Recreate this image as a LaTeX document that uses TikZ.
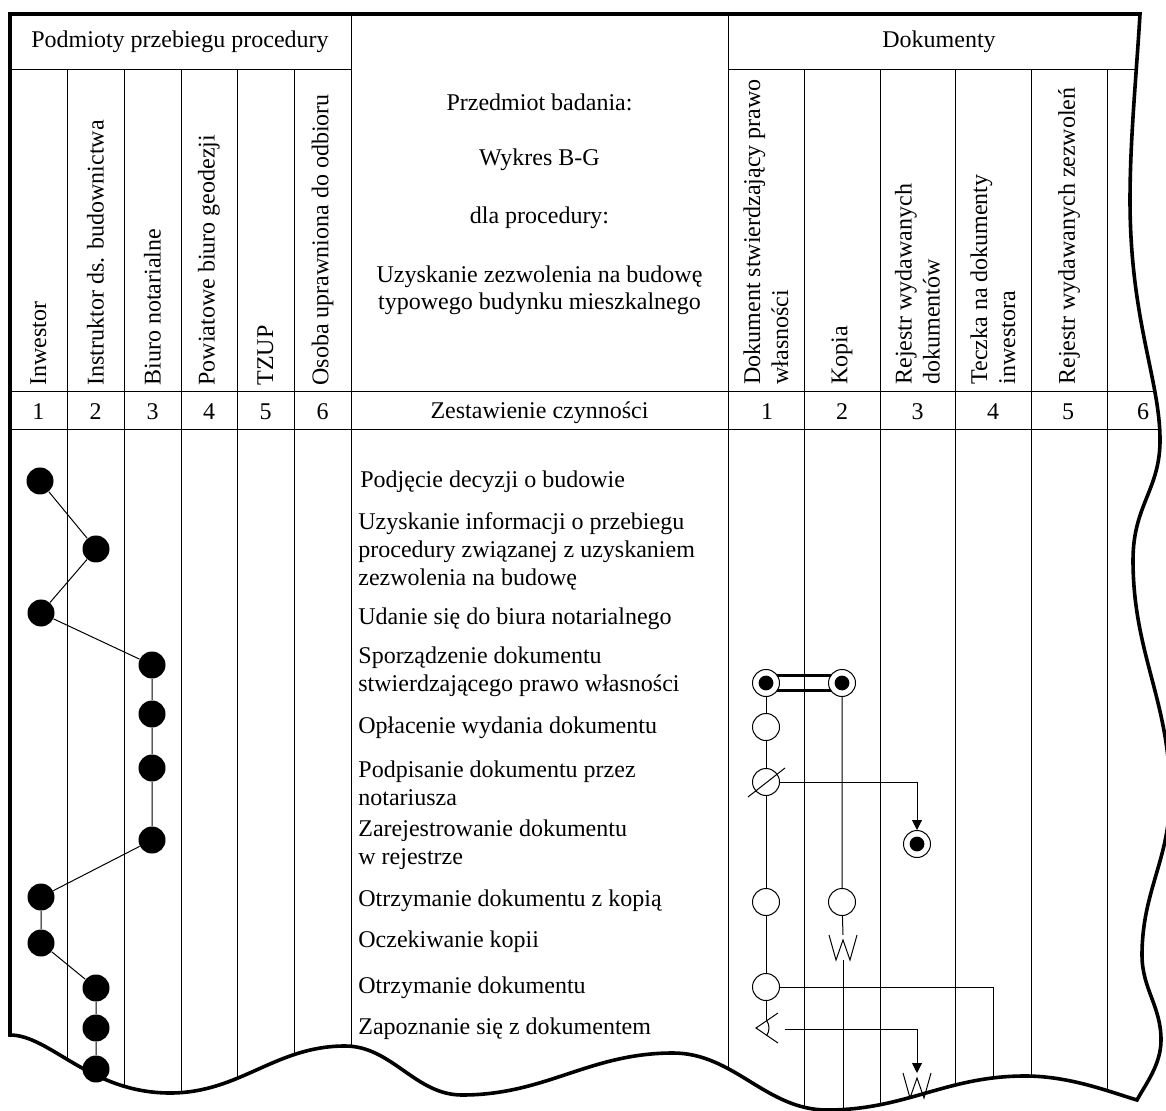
\documentclass[tikz,border=0pt]{standalone}
\usepackage{fontspec}
\setmainfont{Liberation Serif}
\usetikzlibrary{arrows.meta,calc,backgrounds}
\begin{document}
\begin{tikzpicture}[x=0.5pt,y=-0.5pt,
  font=\fontsize{12pt}{14pt}\selectfont,
  gridline/.style={line width=0.5pt},
  frame/.style={line width=1.8pt, line join=miter},
  act/.style={circle, fill=black, minimum size=13.5pt, inner sep=0pt},
  doc/.style={circle, draw, fill=white, line width=0.5pt, minimum size=13.5pt, inner sep=0pt},
  docfull/.style={doc, path picture={\fill[black] (path picture bounding box.center) circle (3.7pt);}},
  vlabel/.style={rotate=90, anchor=west, align=left, inner sep=0pt},
  txt/.style={inner sep=0pt, align=left, anchor=west},
  ctxt/.style={inner sep=0pt, align=center},
  flow/.style={line width=0.5pt},
  tip/.style={-{Triangle[length=5pt,width=5pt]}}
]
\useasboundingbox (0,0) rectangle (1166,1111);

% outline of the torn sheet: straight top and left edges, wavy right and bottom edges
\def\borderpath{(10,1035) -- (10,14) -- (1140,14)
  .. controls (1136,80) and (1130,140) .. (1130,200)
  .. controls (1130,320) and (1160,380) .. (1160,440)
  .. controls (1160,490) and (1133,505) .. (1133,560)
  .. controls (1133,654) and (1170,701) .. (1170,795)
  .. controls (1170,859) and (1142,891) .. (1142,955)
  .. controls (1142,989) and (1161,1006) .. (1161,1040)
  .. controls (1161,1065) and (1145,1085) .. (1137,1100)
  .. controls (1110,1092) and (1070,1076) .. (1025,1076)
  .. controls (946,1076) and (906,1110) .. (827,1110)
  .. controls (766,1110) and (734,1053) .. (673,1053)
  .. controls (589,1053) and (546,1095) .. (462,1095)
  .. controls (415,1095) and (392,1046) .. (345,1046)
  .. controls (275,1046) and (240,1093) .. (170,1093)
  .. controls (90,1093) and (50,1035) .. (10,1035) -- cycle}

% ---------------- headers ----------------
\node[ctxt] (hsub) at (180,42) {Podmioty przebiegu procedury};
\node[ctxt] (hdoc) at (939,42) {Dokumenty};

\node[vlabel] (s1) at (38.5,386) {Inwestor};
\node[vlabel] (s2) at (95.5,386) {Instruktor ds. budownictwa};
\node[vlabel] (s3) at (152.5,386) {Biuro notarialne};
\node[vlabel] (s4) at (209,386) {Powiatowe biuro geodezji};
\node[vlabel] (s5) at (265.5,386) {TZUP};
\node[vlabel] (s6) at (322.5,386) {Osoba uprawniona do odbioru};

\node[ctxt] (t1) at (539.5,102) {Przedmiot badania:};
\node[ctxt] (t2) at (539.5,160) {Wykres B-G};
\node[ctxt] (t3) at (539.5,218) {dla procedury:};
\node[ctxt, font=\fontsize{12pt}{13.4pt}\selectfont] (t4) at (539.5,290) {Uzyskanie zezwolenia na budowę\\typowego budynku mieszkalnego};

\node[vlabel] (k1) at (766,385) {Dokument stwierdzający prawo\\własności};
\node[vlabel] (k2) at (842,385) {Kopia};
\node[vlabel] (k3) at (917.5,385) {Rejestr wydawanych\\dokumentów};
\node[vlabel] (k4) at (993,385) {Teczka na dokumenty\\inwestora};
\node[vlabel] (k5) at (1069,385) {Rejestr wydawanych zezwoleń};

% number row
\foreach \x/\n in {38.5/1,95.5/2,152.5/3,209/4,265.5/5,322.5/6}
  \node[ctxt] (ns\n) at (\x,412) {\n};
\node[ctxt] (nmid) at (539.5,413) {Zestawienie czynności};
\foreach \x/\n in {767/1,842/2,917.5/3,993/4,1068/5,1143/6}
  \node[ctxt] (nd\n) at (\x,412) {\n};

% ---------------- activities ----------------
\node[txt] (a1) at (360,482) {Podjęcie decyzji o budowie};
\node[txt] (a2) at (358,551) {Uzyskanie informacji o przebiegu\\procedury związanej z uzyskaniem\\zezwolenia na budowę};
\node[txt] (a3) at (358,619) {Udanie się do biura notarialnego};
\node[txt] (a4) at (358,672) {Sporządzenie dokumentu\\stwierdzającego prawo własności};
\node[txt] (a5) at (358,728) {Opłacenie wydania dokumentu};
\node[txt] (a6) at (358,783) {Podpisanie dokumentu przez\\notariusza};
\node[txt] (a7) at (358,845) {Zarejestrowanie dokumentu\\w rejestrze};
\node[txt] (a8) at (358,901) {Otrzymanie dokumentu z kopią};
\node[txt] (a9) at (358,942) {Oczekiwanie kopii};
\node[txt] (a10) at (358,988) {Otrzymanie dokumentu};
\node[txt] (a11) at (358,1029) {Zapoznanie się z dokumentem};

% performers of the activities
\node[act] (d1) at (40,481) {};
\node[act] (d2) at (96,549) {};
\node[act] (d3) at (41,613) {};
\node[act] (d4) at (152,665) {};
\node[act] (d5) at (152,714) {};
\node[act] (d6) at (152,768) {};
\node[act] (d7) at (152,840) {};
\node[act] (d8) at (41,897) {};
\node[act] (d9) at (41,943) {};
\node[act] (d10) at (96,988) {};
\node[act] (d11) at (96,1028) {};
\node[act] (d12) at (96,1069) {};
\draw[flow] (d1) -- (d2) -- (d3) -- (d4) -- (d5) -- (d6) -- (d7) -- (d8) -- (d9) -- (d10) -- (d11) -- (d12);

% ---------------- documents ----------------
\node[docfull] (dc1) at (766,683) {};
\node[docfull] (dc2) at (842,683) {};
\node[doc] (c1) at (766,727) {};
\node[doc] (sc) at (766,782) {};
\node[docfull] (dc3) at (917,844) {};
\node[doc] (c2) at (766,902) {};
\node[doc] (c4) at (842,902) {};
\node[doc] (c3) at (766,987) {};
\coordinate (eye) at (756,1028);
\coordinate (w1) at (843,935);
\coordinate (w2) at (917,1073);
\coordinate (end1) at (843,1112);
\coordinate (end2) at (993,1112);

% signature slash
\draw[flow] ($(sc)+(-18,15)$) -- ($(sc)+(19,-14)$);
% reading (eye) mark
\draw[flow] ($(eye)+(22,-15)$) -- (eye) -- ($(eye)+(22,15)$);
\draw[flow] ($(eye)+(-34:6.5pt)$) arc[start angle=-34, end angle=34, radius=6.5pt];
% waiting marks
\draw[flow] ($(w1)+(-14,0)$) -- ++(7,25) -- ++(7,-20) -- ++(7,20) -- ++(7,-25);
\draw[flow] ($(w2)+(-14,0)$) -- ++(7,25) -- ++(7,-20) -- ++(7,20) -- ++(7,-25);

\draw[flow] (dc1) -- (c1) -- (sc) -- (c2) -- (c3);
\draw[flow] (c3) -- ($(eye)+(10,-7)$);
\draw[flow] (dc2) -- (c4) -- (w1);
\draw[flow, tip] (sc.east) -| (dc3);
\draw[flow, tip] ($(eye)+(29,1)$) -| (w2);

\begin{scope}[on background layer]
  \begin{scope}
    \clip \borderpath;
    \foreach \x in {67,124,181,237,294,804,880,955,1031,1107}
      \draw[gridline] (\x,70) -- (\x,1112);
    \foreach \x in {351,728}
      \draw[gridline] (\x,14) -- (\x,1112);
    \draw[gridline] (10,70) -- (351,70);
    \draw[gridline] (728,70) -- (1175,70);
    \draw[gridline] (10,392) -- (1175,392);
    \draw[gridline] (10,430) -- (1175,430);
    \draw[flow] ($(w1)+(0,25)$) -- (end1);
    \draw[flow] (c3.east) -| (end2);
  \end{scope}
  % bound pair of documents
  \draw[line width=1.4pt] ($(dc1)+(0,-7.5)$) -- ($(dc2)+(0,-7.5)$);
  \draw[line width=1.4pt] ($(dc1)+(0,7.5)$) -- ($(dc2)+(0,7.5)$);
\end{scope}

\draw[frame] \borderpath;
\end{tikzpicture}
\end{document}
